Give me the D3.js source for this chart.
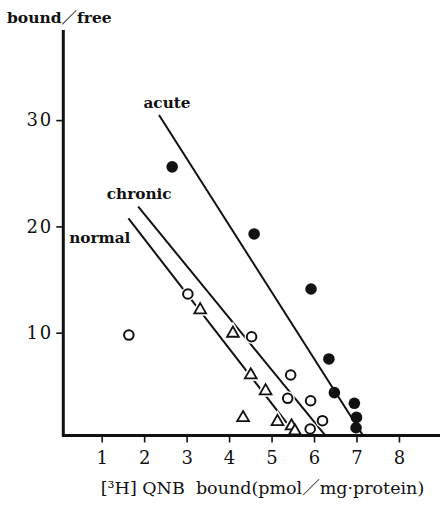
<!DOCTYPE html>
<html>
<head>
<meta charset="utf-8">
<script src="https://cdn.jsdelivr.net/npm/d3@7"></script>
<style>
  html, body { margin: 0; padding: 0; background: #fff; }
  #chart { width: 440px; height: 507px; }
  text { fill: #111; white-space: pre; }
</style>
</head>
<body>
<div id="chart"></div>
<script>
// Scatchard plot values
const xTicks = [1, 2, 3, 4, 5, 6, 7, 8];
const yTicks = [10, 20, 30];

// filled circles (acute)
const acuteX = [2.66, 4.59, 5.93, 6.35, 6.48, 6.95, 7.00, 6.99];
const acuteY = [25.6, 19.29, 14.11, 7.53, 4.36, 3.36, 2.03, 1.06];

// open circles
const circleX = [1.64, 3.03, 4.53, 5.45, 5.38, 5.92, 6.20, 5.91];
const circleY = [9.78, 13.64, 9.62, 6.02, 3.83, 3.60, 1.72, 0.94];

// open triangles
const triX = [3.32, 4.09, 4.51, 4.86, 4.33, 5.14, 5.47, 5.55];
const triY = [12.14, 9.94, 6.02, 4.52, 2.00, 1.63, 1.22, 0.75];

// regression lines: [x1, y1, x2, y2]
const lineNames = ["acute", "chronic", "normal"];
const lineEnds = [
  [2.35, 30.48, 7.15, 0.36],
  [1.86, 21.85, 6.26, 0.36],
  [1.63, 20.76, 5.58, 0.36]
];

const width = 440, height = 507;
const serif = "'DejaVu Serif', 'Noto Sans CJK JP', serif";

const x = d3.scaleLinear().domain([0, 8]).range([59.2, 59.2 + 42.47 * 8]);
const y = d3.scaleLinear().domain([0, 30]).range([439, 439 - 10.63 * 30]);

const svg = d3.select("#chart").append("svg")
  .attr("width", width)
  .attr("height", height)
  .attr("viewBox", [0, 0, width, height]);

const xMin = x.invert(63.3), xMax = x.invert(440);
const yMin = y.invert(435.5), yMax = y.invert(30);

// regression lines (drawn first so markers cut gaps into them)
svg.append("g").selectAll("line")
  .data(lineEnds)
  .join("line")
  .attr("x1", d => x(d[0]))
  .attr("y1", d => y(d[1]))
  .attr("x2", d => x(d[2]))
  .attr("y2", d => y(d[3]))
  .attr("stroke", "#111")
  .attr("stroke-width", 2);

// axes
const xAxis = svg.append("g")
  .attr("transform", `translate(0,${y(yMin)})`)
  .call(d3.axisBottom(x).tickValues(xTicks).tickSize(7).tickPadding(9).tickFormat(d3.format("d")));
xAxis.select(".domain").attr("d", `M${x(xMin)},0H${x(xMax)}`).attr("stroke-width", 3);

const yAxis = svg.append("g")
  .attr("transform", `translate(${x(xMin)},0)`)
  .call(d3.axisLeft(y).tickValues(yTicks).tickSize(7).tickPadding(5).tickFormat(d3.format("d")));
yAxis.select(".domain").attr("d", `M0,${y(yMax)}V${y(yMin) + 1.5}`).attr("stroke-width", 3);

svg.selectAll(".tick line").attr("stroke", "#111").attr("stroke-width", 1.6);
svg.selectAll(".tick text")
  .attr("font-family", serif)
  .attr("font-size", 18);
yAxis.selectAll(".tick text").attr("letter-spacing", 2).attr("dx", 2);

svg.selectAll(".domain").attr("stroke", "#111");

// line labels, placed next to each line's upper end
const labelOffsets = [
  { dx: 8, dy: -7, anchor: "middle" },
  { dx: 1, dy: -8, anchor: "middle" },
  { dx: 2, dy: 25, anchor: "end" }
];
svg.append("g").selectAll("text")
  .data(lineNames)
  .join("text")
  .attr("x", (d, i) => x(lineEnds[i][0]) + labelOffsets[i].dx)
  .attr("y", (d, i) => y(lineEnds[i][1]) + labelOffsets[i].dy)
  .attr("text-anchor", (d, i) => labelOffsets[i].anchor)
  .attr("font-family", serif)
  .attr("font-weight", "bold")
  .attr("font-size", 15.3)
  .text(d => d);

// markers: white halo first, so the lines break around them
const tri = d3.symbol().type(d3.symbolTriangle).size(60);
const triG = svg.append("g");
triG.selectAll("path.halo")
  .data(d3.range(triX.length))
  .join("path")
  .attr("class", "halo")
  .attr("d", tri)
  .attr("transform", i => `translate(${x(triX[i])},${y(triY[i])})`)
  .attr("fill", "#fff")
  .attr("stroke", "#fff")
  .attr("stroke-width", 5);
triG.selectAll("path.mark")
  .data(d3.range(triX.length))
  .join("path")
  .attr("class", "mark")
  .attr("d", tri)
  .attr("transform", i => `translate(${x(triX[i])},${y(triY[i])})`)
  .attr("fill", "#fff")
  .attr("stroke", "#111")
  .attr("stroke-width", 1.8);

const circG = svg.append("g");
circG.selectAll("circle.halo")
  .data(d3.range(circleX.length))
  .join("circle")
  .attr("class", "halo")
  .attr("cx", i => x(circleX[i]))
  .attr("cy", i => y(circleY[i]))
  .attr("r", 7)
  .attr("fill", "#fff");
circG.selectAll("circle.mark")
  .data(d3.range(circleX.length))
  .join("circle")
  .attr("class", "mark")
  .attr("cx", i => x(circleX[i]))
  .attr("cy", i => y(circleY[i]))
  .attr("r", 4.8)
  .attr("fill", "#fff")
  .attr("stroke", "#111")
  .attr("stroke-width", 2);

svg.append("g").selectAll("circle")
  .data(d3.range(acuteX.length))
  .join("circle")
  .attr("cx", i => x(acuteX[i]))
  .attr("cy", i => y(acuteY[i]))
  .attr("r", 5.8)
  .attr("fill", "#111");

// redraw the x axis line over the halos near the baseline
svg.append("path")
  .attr("d", `M${x(xMin)},${y(yMin)}H${x(xMax)}`)
  .attr("stroke", "#111")
  .attr("stroke-width", 3);

// axis titles
svg.append("text")
  .attr("x", 7)
  .attr("y", 23)
  .attr("font-family", serif)
  .attr("font-weight", "bold")
  .attr("font-size", 15.5)
  .text("bound／free");

svg.append("text")
  .attr("x", 262.5)
  .attr("y", 494)
  .attr("text-anchor", "middle")
  .attr("font-family", serif)
  .attr("font-size", 17.5)
  .text("[³H] QNB  bound(pmol／mg·protein)");
</script>
</body>
</html>
